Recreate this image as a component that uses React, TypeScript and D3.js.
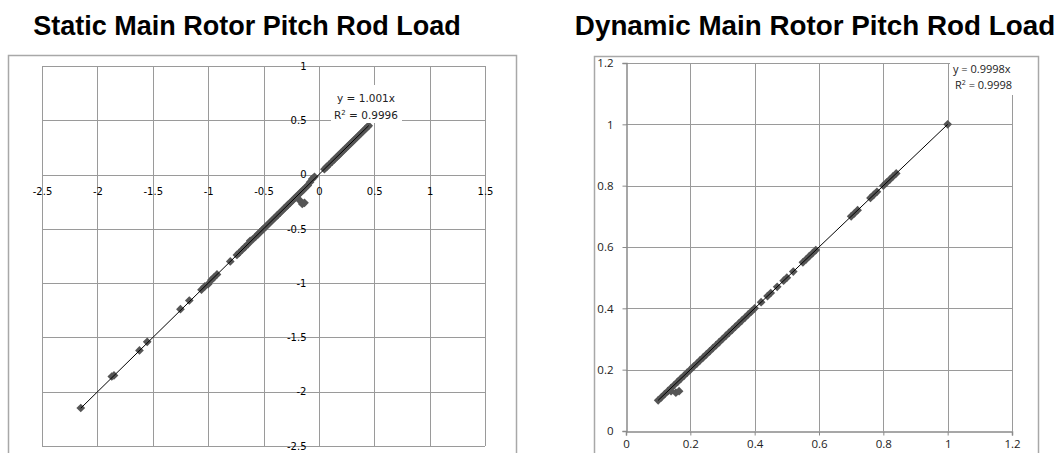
import React, { useEffect, useRef } from "react";
import * as d3 from "d3";

// static chart
const staticTicksX = [-2.5, -2, -1.5, -1, -0.5, 0, 0.5, 1, 1.5];
const staticTicksY = [-2.5, -2, -1.5, -1, -0.5, 0, 0.5, 1];
const staticX = [
  -2.15, -1.87, -1.85, -1.62, -1.55, -1.25, -1.17, -1.06, -1.03, -1.0, -0.97, -0.95, -0.92,
  -0.8, -0.74, -0.72, -0.69, -0.67, -0.64, -0.62, -0.6, -0.57, -0.55, -0.53, -0.51, -0.5,
  -0.48, -0.46, -0.44, -0.42, -0.4, -0.38, -0.37, -0.35, -0.33, -0.31, -0.29, -0.28, -0.26,
  -0.24, -0.22, -0.2, -0.18, -0.16, -0.14, -0.12, -0.1, -0.08, -0.06, -0.04, -0.17, -0.15,
  -0.13, 0.05, 0.07, 0.09, 0.12, 0.14, 0.16, 0.18, 0.2, 0.22, 0.24, 0.26, 0.28, 0.3, 0.32,
  0.34, 0.36, 0.38, 0.4, 0.42, 0.44, 0.45,
];
const staticY = [
  -2.15, -1.86, -1.85, -1.62, -1.54, -1.24, -1.16, -1.06, -1.03, -1.01, -0.97, -0.95, -0.92,
  -0.8, -0.74, -0.72, -0.69, -0.67, -0.64, -0.61, -0.6, -0.57, -0.55, -0.53, -0.51, -0.5,
  -0.48, -0.46, -0.44, -0.42, -0.4, -0.38, -0.37, -0.35, -0.33, -0.31, -0.29, -0.28, -0.26,
  -0.24, -0.22, -0.2, -0.18, -0.16, -0.14, -0.12, -0.1, -0.07, -0.04, -0.02, -0.24, -0.27,
  -0.26, 0.05, 0.07, 0.09, 0.12, 0.14, 0.16, 0.18, 0.2, 0.22, 0.24, 0.26, 0.28, 0.3, 0.32,
  0.34, 0.36, 0.38, 0.4, 0.42, 0.44, 0.45,
];
const staticFit = { slope: 1.001, from: -2.15, to: 0.45, eq: "y = 1.001x", r2: "0.9996" };

// dynamic chart
const dynamicTicks = [0, 0.2, 0.4, 0.6, 0.8, 1, 1.2];
const dynamicX = [
  0.1, 0.11, 0.12, 0.13, 0.14, 0.15, 0.16, 0.17, 0.18, 0.19, 0.2, 0.21, 0.22, 0.23, 0.24, 0.25,
  0.26, 0.27, 0.28, 0.29, 0.3, 0.31, 0.32, 0.33, 0.34, 0.35, 0.36, 0.37, 0.38, 0.39, 0.4, 0.42,
  0.44, 0.45, 0.47, 0.49, 0.5, 0.52, 0.55, 0.56, 0.57, 0.58, 0.59, 0.7, 0.71, 0.72, 0.76, 0.77,
  0.78, 0.8, 0.81, 0.82, 0.83, 0.84, 1.0, 0.14, 0.155, 0.165,
];
const dynamicY = [
  0.1, 0.11, 0.12, 0.13, 0.14, 0.15, 0.16, 0.17, 0.18, 0.19, 0.2, 0.21, 0.22, 0.23, 0.24, 0.25,
  0.26, 0.27, 0.28, 0.29, 0.3, 0.31, 0.32, 0.33, 0.34, 0.35, 0.36, 0.37, 0.38, 0.39, 0.4, 0.42,
  0.44, 0.45, 0.47, 0.49, 0.5, 0.52, 0.55, 0.56, 0.57, 0.58, 0.59, 0.7, 0.71, 0.72, 0.76, 0.77,
  0.78, 0.8, 0.81, 0.82, 0.83, 0.84, 1.0, 0.13, 0.125, 0.13,
];
const dynamicFit = { slope: 0.9998, from: 0.1, to: 1.0, eq: "y = 0.9998x", r2: "0.9998" };

const gridColor = "#9a9a9a";
const markerColor = "#555555";
const px = (v: number) => Math.round(v) + 0.5;

const App = () => {
  const ref = useRef<SVGSVGElement>(null);

  useEffect(() => {
    const svg = d3.select(ref.current);
    svg.selectAll("*").remove();
    const diamond = d3.symbol().type(d3.symbolSquare).size(38);

    // ---------- left: static ----------
    const sx = d3.scaleLinear().domain([-2.5, 1.5]).range([42, 485]);
    const sy = d3.scaleLinear().domain([-2.5, 1]).range([446, 66]);
    const left = svg.append("g");

    left.append("text").attr("x", 247).attr("y", 35).attr("text-anchor", "middle")
      .attr("font-family", "Liberation Sans, Arial, sans-serif").attr("font-weight", "bold")
      .attr("font-size", 27).text("Static Main Rotor Pitch Rod Load");

    left.append("rect").attr("x", 8.5).attr("y", 55.5).attr("width", 508).attr("height", 430)
      .attr("fill", "none").attr("stroke", "#a8a8a8").attr("stroke-width", 1.5);

    left.selectAll(".vg").data(staticTicksX).enter().append("line")
      .attr("x1", (d) => px(sx(d))).attr("x2", (d) => px(sx(d)))
      .attr("y1", sy(1)).attr("y2", sy(-2.5)).attr("stroke", gridColor);
    left.selectAll(".hg").data(staticTicksY).enter().append("line")
      .attr("y1", (d) => px(sy(d))).attr("y2", (d) => px(sy(d)))
      .attr("x1", sx(-2.5)).attr("x2", sx(1.5)).attr("stroke", gridColor);

    const sxAxis = left.append("g").attr("transform", `translate(0,${px(sy(0))})`)
      .call(d3.axisBottom(sx).tickValues(staticTicksX).tickSize(0).tickPadding(12)
        .tickFormat((d) => String(d)));
    const syAxis = left.append("g").attr("transform", `translate(${px(sx(0))},0)`)
      .call(d3.axisLeft(sy).tickValues(staticTicksY).tickSize(0).tickPadding(13)
        .tickFormat((d) => String(d)));
    [sxAxis, syAxis].forEach((a) => {
      a.select(".domain").remove();
      a.selectAll("text").attr("font-family", "DejaVu Sans, Tahoma, sans-serif")
        .attr("font-size", 10).attr("fill", "#000");
    });

    left.selectAll(".pt").data(staticX).enter().append("path")
      .attr("d", diamond)
      .attr("transform", (d, i) => `translate(${sx(d)},${sy(staticY[i])}) rotate(45)`)
      .attr("fill", markerColor);

    left.append("line")
      .attr("x1", sx(staticFit.from)).attr("y1", sy(staticFit.from * staticFit.slope))
      .attr("x2", sx(staticFit.to)).attr("y2", sy(staticFit.to * staticFit.slope))
      .attr("stroke", "#000").attr("stroke-width", 1);

    left.append("rect").attr("x", 331).attr("y", 85).attr("width", 71).attr("height", 38)
      .attr("fill", "#fff");
    const sLab = left.append("text").attr("font-family", "DejaVu Sans, Tahoma, sans-serif")
      .attr("font-size", 10.5).attr("text-anchor", "middle").attr("fill", "#222");
    sLab.append("tspan").attr("x", 366).attr("y", 102).text(staticFit.eq);
    const sR = sLab.append("tspan").attr("x", 366).attr("y", 119);
    sR.append("tspan").text("R");
    sR.append("tspan").attr("font-size", 7).attr("dy", -4).text("2");
    sR.append("tspan").attr("dy", 4).text(" = " + staticFit.r2);

    // ---------- right: dynamic ----------
    const dx = d3.scaleLinear().domain([0, 1.2]).range([626, 1012]);
    const dy = d3.scaleLinear().domain([0, 1.2]).range([431, 63]);
    const right = svg.append("g");

    right.append("text").attr("x", 815).attr("y", 35).attr("text-anchor", "middle")
      .attr("font-family", "Liberation Sans, Arial, sans-serif").attr("font-weight", "bold")
      .attr("font-size", 27.8).text("Dynamic Main Rotor Pitch Rod Load");

    right.append("rect").attr("x", 594.5).attr("y", 56.5).attr("width", 444).attr("height", 430)
      .attr("fill", "none").attr("stroke", "#a8a8a8").attr("stroke-width", 1.5);

    right.selectAll(".vg").data(dynamicTicks.slice(1)).enter().append("line")
      .attr("x1", (d) => px(dx(d))).attr("x2", (d) => px(dx(d)))
      .attr("y1", dy(1.2)).attr("y2", dy(0)).attr("stroke", gridColor);
    right.selectAll(".hg").data(dynamicTicks.slice(1)).enter().append("line")
      .attr("y1", (d) => px(dy(d))).attr("y2", (d) => px(dy(d)))
      .attr("x1", dx(0)).attr("x2", dx(1.2)).attr("stroke", gridColor);

    const dxAxis = right.append("g").attr("transform", `translate(0,${px(dy(0))})`)
      .call(d3.axisBottom(dx).tickValues(dynamicTicks).tickSize(4).tickPadding(4)
        .tickFormat((d) => String(d)));
    const dyAxis = right.append("g").attr("transform", `translate(${px(dx(0))},0)`)
      .call(d3.axisLeft(dy).tickValues(dynamicTicks).tickSize(4).tickPadding(9)
        .tickFormat((d) => String(d)));
    [dxAxis, dyAxis].forEach((a) => {
      a.select(".domain").attr("stroke", "#8a8a8a").attr("stroke-width", 1.5);
      a.selectAll("line").attr("stroke", "#8a8a8a");
      a.selectAll("text").attr("font-family", "Open Sans, sans-serif")
        .attr("font-size", 11.5).attr("fill", "#222");
    });

    right.selectAll(".pt").data(dynamicX).enter().append("path")
      .attr("d", diamond)
      .attr("transform", (d, i) => `translate(${dx(d)},${dy(dynamicY[i])}) rotate(45)`)
      .attr("fill", markerColor);

    right.append("line")
      .attr("x1", dx(dynamicFit.from)).attr("y1", dy(dynamicFit.from * dynamicFit.slope))
      .attr("x2", dx(dynamicFit.to)).attr("y2", dy(dynamicFit.to * dynamicFit.slope))
      .attr("stroke", "#000").attr("stroke-width", 1);

    right.append("rect").attr("x", 950).attr("y", 59).attr("width", 72).attr("height", 36)
      .attr("fill", "#fff");
    const dLab = right.append("text").attr("font-family", "Open Sans, sans-serif")
      .attr("font-size", 11).attr("fill", "#222");
    dLab.append("tspan").attr("x", 953).attr("y", 73).text(dynamicFit.eq);
    const dR = dLab.append("tspan").attr("x", 955).attr("y", 89);
    dR.append("tspan").text("R");
    dR.append("tspan").attr("font-size", 7).attr("dy", -4).text("2");
    dR.append("tspan").attr("dy", 4).text(" = " + dynamicFit.r2);
  }, []);

  return (
    <svg
      ref={ref}
      width={1060}
      height={453}
      style={{ position: "absolute", left: 0, top: 0, background: "#fff" }}
    />
  );
};

export default App;
